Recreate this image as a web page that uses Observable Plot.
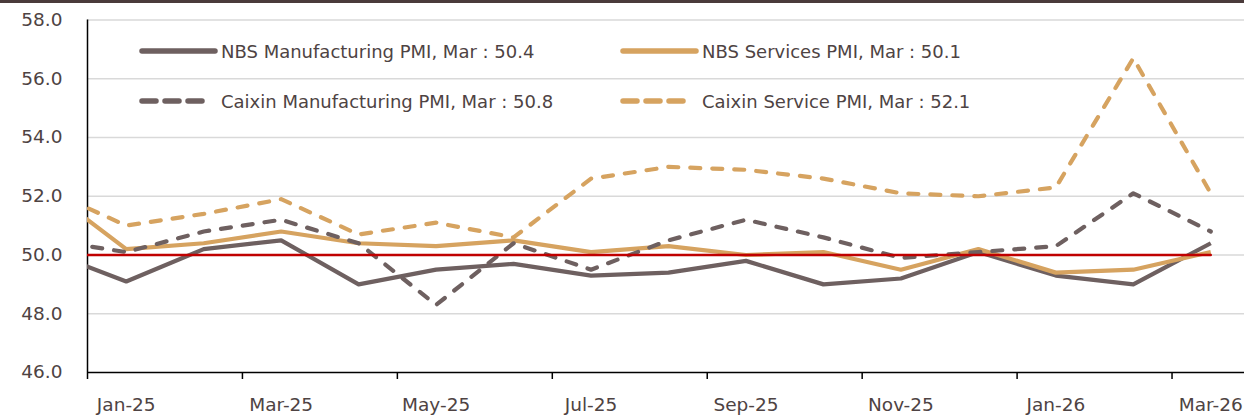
<!DOCTYPE html>
<html>
<head>
<meta charset="utf-8">
<script src="https://cdn.jsdelivr.net/npm/d3@7"></script>
<script src="https://cdn.jsdelivr.net/npm/@observablehq/plot@0.6"></script>
<style>
  body { margin: 0; background: #fff; }
  #wrap { position: relative; width: 1244px; font-family: "DejaVu Sans", sans-serif; color: #4e4343; }
  #topbar { height: 3px; background: #4a3b3b; }
  .leg { position: absolute; display: flex; align-items: center; font-size: 18px; white-space: nowrap; }
  .leg svg { display: block; }
</style>
</head>
<body>
<div id="wrap">
  <div id="topbar"></div>
  <div id="chart"></div>
</div>
<script>
const months = ["Dec-24","Jan-25","Feb-25","Mar-25","Apr-25","May-25","Jun-25","Jul-25","Aug-25","Sep-25","Oct-25","Nov-25","Dec-25","Jan-26","Feb-26","Mar-26"];
const nbsManufacturing = [50.1,49.1,50.2,50.5,49.0,49.5,49.7,49.3,49.4,49.8,49.0,49.2,50.1,49.3,49.0,50.4];
const nbsServices      = [52.2,50.2,50.4,50.8,50.4,50.3,50.5,50.1,50.3,50.0,50.1,49.5,50.2,49.4,49.5,50.1];
const caixinManufacturing = [50.5,50.1,50.8,51.2,50.4,48.3,50.4,49.5,50.5,51.2,50.6,49.9,50.1,50.3,52.1,50.8];
const caixinServices   = [52.2,51.0,51.4,51.9,50.7,51.1,50.6,52.6,53.0,52.9,52.6,52.1,52.0,52.3,56.7,52.1];
const threshold = 50;
const xTickLabels = ["Jan-25","Mar-25","May-25","Jul-25","Sep-25","Nov-25","Jan-26","Mar-26"];
const yTicks = [46,48,50,52,54,56,58];
const seriesNames = ["NBS Manufacturing PMI","NBS Services PMI","Caixin Manufacturing PMI","Caixin Service PMI"];

const GRAY = "#6e6060", TAN = "#d6a360", RED = "#c00000", TXT = "#4e4343";
const series = [
  {name: seriesNames[0], values: nbsManufacturing, color: GRAY, dash: null},
  {name: seriesNames[1], values: nbsServices, color: TAN, dash: null},
  {name: seriesNames[2], values: caixinManufacturing, color: GRAY, dash: "10,12"},
  {name: seriesNames[3], values: caixinServices, color: TAN, dash: "10,12"}
];
const rows = series.flatMap(s => s.values.map((v, i) => ({name: s.name, i, v})));
const idx = months.map((m, i) => i);
const labelPos = xTickLabels.map(l => months.indexOf(l));
const boundaries = labelPos.map(p => p - 0.5);
const FONT = 18.5;

const chart = Plot.plot({
  width: 1244,
  height: 414,
  marginLeft: 87,
  marginRight: 0,
  marginTop: 16.5,
  marginBottom: 45,
  style: {fontFamily: '"DejaVu Sans", sans-serif', fontSize: FONT + "px", color: TXT, background: "#fff"},
  x: {domain: [0.5, months.length - 0.5], range: [87, 1249], label: null},
  y: {domain: [yTicks[0], yTicks[yTicks.length - 1]], label: null},
  marks: [
    Plot.gridY(yTicks.slice(1), {stroke: "#d9d9d9", strokeOpacity: 1, strokeWidth: 1.5}),
    Plot.axisY({ticks: yTicks, tickFormat: d => d.toFixed(1), tickSize: 0, tickPadding: 25, fill: TXT, fontSize: FONT, label: null}),
    Plot.axisX({ticks: boundaries, tickFormat: () => "", tickSize: 7, stroke: "#000", strokeWidth: 1.5, label: null}),
    Plot.axisX({ticks: labelPos, tickFormat: i => months[i], tickSize: 0, tickPadding: 25, fill: TXT, fontSize: FONT, label: null}),
    Plot.ruleX([0.5], {stroke: "#000", strokeWidth: 1.5}),
    Plot.ruleY([yTicks[0]], {stroke: "#000", strokeWidth: 1.5}),
    ...series.map(s => Plot.line(rows.filter(r => r.name === s.name), {
      x: "i", y: "v", stroke: s.color, strokeWidth: 4.2,
      strokeDasharray: s.dash, strokeLinecap: s.dash ? "round" : "butt", strokeLinejoin: "round", clip: true
    })),
    Plot.line(idx, {x: d => d, y: () => threshold, stroke: RED, strokeWidth: 2.5, clip: true})
  ]
});
document.getElementById("chart").appendChild(chart);

// legend
const wrap = document.getElementById("wrap");
const legendPos = [
  {left: 139, top: 51, text: series[0].name + ", Mar : " + nbsManufacturing.at(-1).toFixed(1)},
  {left: 620, top: 51, text: series[1].name + ", Mar : " + nbsServices.at(-1).toFixed(1)},
  {left: 139, top: 101, text: series[2].name + ", Mar : " + caixinManufacturing.at(-1).toFixed(1)},
  {left: 620, top: 101, text: series[3].name + ", Mar : " + caixinServices.at(-1).toFixed(1)}
];
series.forEach((s, k) => {
  const p = legendPos[k];
  const div = document.createElement("div");
  div.className = "leg";
  div.style.left = p.left + "px";
  div.style.top = (p.top - 12) + "px";
  div.style.height = "24px";
  const sw = d3.create("svg").attr("width", 79).attr("height", 24);
  sw.append("line").attr("x1", 3).attr("x2", s.dash ? 68 : 76).attr("y1", 12).attr("y2", 12)
    .attr("stroke", s.color).attr("stroke-width", 5.5).attr("stroke-linecap", "round")
    .attr("stroke-dasharray", s.dash ? "14,9" : null);
  div.appendChild(sw.node());
  const t = document.createElement("span");
  t.textContent = p.text;
  t.style.marginLeft = "3px";
  div.appendChild(t);
  wrap.appendChild(div);
});
</script>
</body>
</html>
